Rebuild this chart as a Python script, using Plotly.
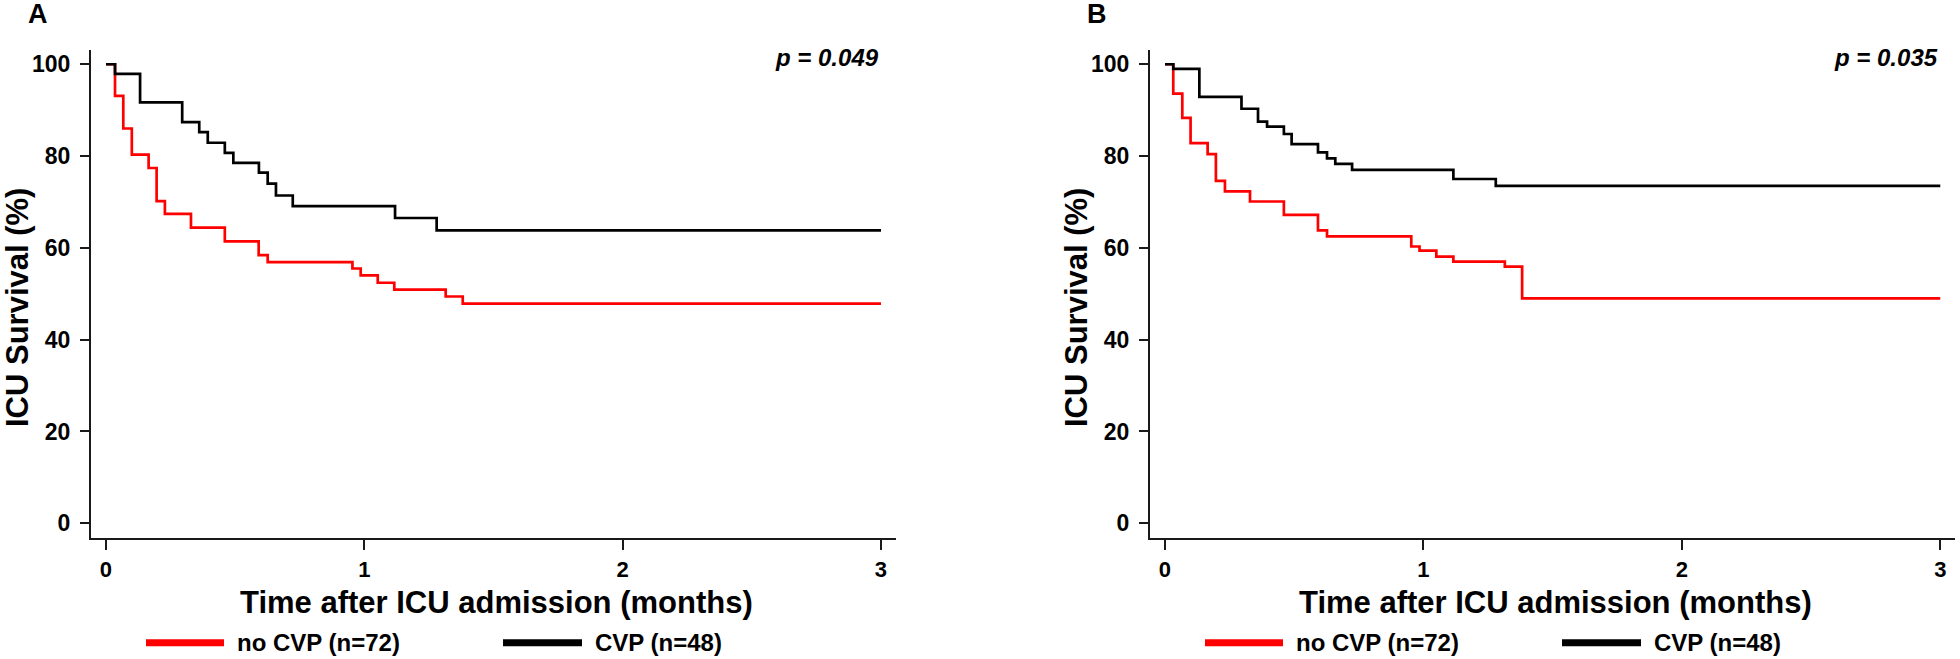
import plotly.graph_objects as go

# ---------------- data ----------------
# Panel A
a_cvp_t = [0, 0.035, 0.132, 0.295, 0.361, 0.394, 0.46, 0.493, 0.592, 0.626, 0.658, 0.723, 1.119, 1.28, 3.0]
a_cvp_s = [100, 97.9, 91.7, 87.4, 85.2, 82.9, 80.7, 78.5, 76.4, 74.0, 71.4, 69.1, 66.5, 63.8, 63.8]
a_nocvp_t = [0, 0.035, 0.067, 0.1, 0.165, 0.196, 0.228, 0.329, 0.46, 0.591, 0.626, 0.954, 0.986, 1.052, 1.116, 1.315, 1.381, 3.0]
a_nocvp_s = [100, 93.1, 86.0, 80.3, 77.4, 70.2, 67.4, 64.4, 61.4, 58.4, 56.9, 55.5, 54.0, 52.4, 50.9, 49.4, 47.85, 47.85]
# Panel B
b_cvp_t = [0, 0.032, 0.133, 0.296, 0.36, 0.395, 0.46, 0.49, 0.592, 0.627, 0.659, 0.724, 1.116, 1.28, 3.0]
b_cvp_s = [100, 99.0, 92.9, 90.3, 87.5, 86.4, 84.8, 82.6, 80.8, 79.5, 78.3, 77.0, 75.0, 73.5, 73.5]
b_nocvp_t = [0, 0.032, 0.067, 0.099, 0.165, 0.197, 0.232, 0.329, 0.46, 0.592, 0.627, 0.953, 0.985, 1.05, 1.116, 1.315, 1.382, 3.0]
b_nocvp_s = [100, 93.6, 88.3, 82.8, 80.4, 74.6, 72.3, 70.1, 67.2, 63.8, 62.5, 60.3, 59.4, 58.1, 57.0, 55.9, 49.0, 49.0]

panel_letters = ["A", "B"]
p_values = ["p = 0.049", "p = 0.035"]
series_names = ["no CVP (n=72)", "CVP (n=48)"]
series_colors = ["#ff0000", "#000000"]
x_ticks = [0, 1, 2, 3]
y_ticks = [0, 20, 40, 60, 80, 100]
x_title = "Time after ICU admission (months)"
y_title = "ICU Survival (%)"

# ---------------- layout constants ----------------
W, H = 1960, 659
FONT = "Liberation Sans, Arial, Helvetica, sans-serif"

def px(x):
    return x / W

def py(y):
    return (H - y) / H

x_domains = [(91, 895.7), (1150, 1955)]
y_dom = [py(538.3), py(50)]
x_range = [-0.058, 3.057]
y_range = [-3.27, 103.1]

fig = go.Figure()

panels = [
    (a_nocvp_t, a_nocvp_s, a_cvp_t, a_cvp_s),
    (b_nocvp_t, b_nocvp_s, b_cvp_t, b_cvp_s),
]

for i, (nt, ns, ct, cs) in enumerate(panels):
    xa = "x" if i == 0 else "x2"
    ya = "y" if i == 0 else "y2"
    fig.add_trace(go.Scatter(x=nt, y=ns, mode="lines", line=dict(color=series_colors[0], width=2.7, shape="hv"),
                             name=series_names[0], showlegend=False, xaxis=xa, yaxis=ya))
    fig.add_trace(go.Scatter(x=ct, y=cs, mode="lines", line=dict(color=series_colors[1], width=2.7, shape="hv"),
                             name=series_names[1], showlegend=False, xaxis=xa, yaxis=ya))

axis_common = dict(showgrid=False, zeroline=False, showline=True, linewidth=2, linecolor="#1a1a1a",
                   ticks="outside", tickwidth=1.5, tickcolor="#1a1a1a")

layout = dict(
    width=W, height=H, autosize=False,
    margin=dict(l=0, r=0, t=0, b=0),
    paper_bgcolor="white", plot_bgcolor="white",
    font=dict(family=FONT, color="black"),
    showlegend=False,
)
for i in range(2):
    xk = "xaxis" if i == 0 else "xaxis2"
    yk = "yaxis" if i == 0 else "yaxis2"
    layout[xk] = dict(axis_common, domain=[px(x_domains[i][0]), px(x_domains[i][1])], range=x_range,
                      tickvals=x_ticks, ticklen=10, ticklabelstandoff=0,
                      tickfont=dict(size=22, family=FONT, weight="bold", color="black"),
                      anchor="y" if i == 0 else "y2")
    layout[yk] = dict(axis_common, domain=y_dom, range=y_range, tickvals=y_ticks, ticklen=9,
                      ticklabelstandoff=5,
                      tickfont=dict(size=23, family=FONT, weight="bold", color="black"),
                      anchor="x" if i == 0 else "x2")
fig.update_layout(**layout)

annotations = []
shapes = []
for i in range(2):
    x0, x1 = x_domains[i]
    xref = "x" if i == 0 else "x2"
    # panel letter
    annotations.append(dict(text=f"<b>{panel_letters[i]}</b>", x=px(x0 - 53.5), y=py(14.5), xref="paper", yref="paper",
                            xanchor="center", yanchor="middle", showarrow=False,
                            font=dict(size=27, family=FONT, color="black")))
    # p value
    annotations.append(dict(text=f"<b><i>{p_values[i]}</i></b>", x=3, y=py(57), xref=xref, yref="paper",
                            xanchor="right", yanchor="middle", showarrow=False,
                            font=dict(size=24, family=FONT, color="black")))
    # x title
    annotations.append(dict(text=f"<b>{x_title}</b>", x=px((x0 + x1) / 2 + 3), y=py(602.5), xref="paper", yref="paper",
                            xanchor="center", yanchor="middle", showarrow=False,
                            font=dict(size=31, family=FONT, color="black")))
    # y title
    annotations.append(dict(text=f"<b>{y_title}</b>", x=px(x0 - 73.5), y=py(307.5), xref="paper", yref="paper",
                            xanchor="center", yanchor="middle", showarrow=False, textangle=-90,
                            font=dict(size=31, family=FONT, color="black")))
    # legend (line + label) below each panel
    leg_items = [(55, 133, 144), (412, 491, 502)]
    for k, (l0, l1, tx) in enumerate(leg_items):
        shapes.append(dict(type="line", xref="paper", yref="paper", x0=px(x0 + l0), x1=px(x0 + l1),
                           y0=py(642.7), y1=py(642.7), line=dict(color=series_colors[k], width=7)))
        annotations.append(dict(text=f"<b>{series_names[k]}</b>", x=px(x0 + tx), y=py(642.5), xref="paper", yref="paper",
                                xanchor="left", yanchor="middle", showarrow=False,
                                font=dict(size=24, family=FONT, color="black")))

fig.update_layout(annotations=annotations, shapes=shapes)
fig.write_html("out.html",
               config={"displayModeBar": False},
               post_script="document.body.style.margin='0';document.body.style.padding='0';"
                           "document.body.style.overflow='hidden';")
